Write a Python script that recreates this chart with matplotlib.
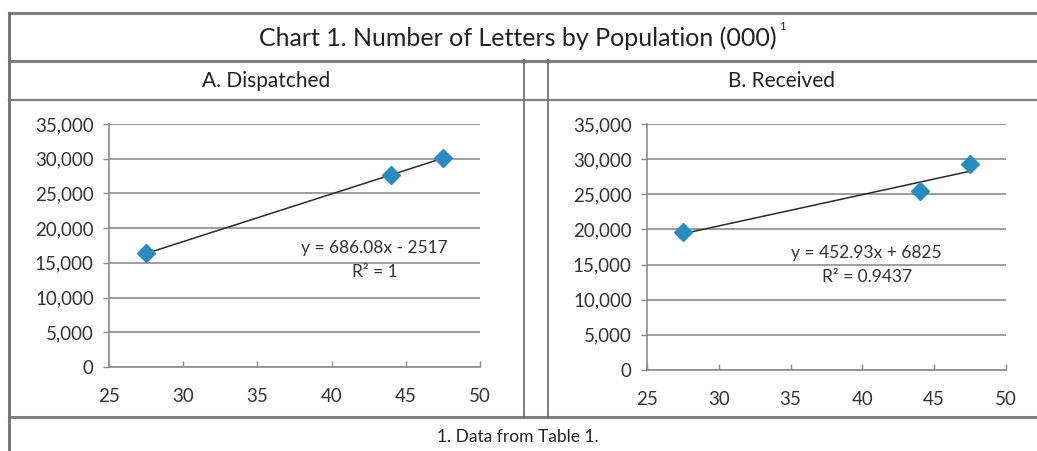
import numpy as np
import matplotlib
matplotlib.use("Agg")
import matplotlib.pyplot as plt
from matplotlib.lines import Line2D
from matplotlib.ticker import FuncFormatter

plt.rcParams['font.family'] = ['Lato', 'DejaVu Sans']

# --- data ---
population = [27.5, 44.0, 47.5]          # (000)
dispatched = [16350, 27670, 30070]
received = [19600, 25500, 29300]

title = "Chart 1. Number of Letters by Population (000)"
panel_titles = ["A. Dispatched", "B. Received"]
equations = ["y = 686.08x - 2517\nR² = 1", "y = 452.93x + 6825\nR² = 0.9437"]
eq_pos = [(42.9, 15400), (40.3, 14900)]
footnote = "1. Data from Table 1."

W, H = 1037, 451
fig = plt.figure(figsize=(W / 100, H / 100), dpi=100)
fig.patch.set_facecolor('white')


def px(x, y):
    return x / W, 1 - y / H


def hline(y, x0=9, x1=W, lw=2.0, color='#7f7f7f'):
    (a, b), (c, _) = px(x0, y), px(x1, y)
    fig.add_artist(Line2D([a, c], [b, b], lw=lw, color=color))


def vline(x, y0, y1, lw=1.3, color='#707070'):
    (a, b), (_, d) = px(x, y0), px(x, y1)
    fig.add_artist(Line2D([a, a], [b, d], lw=lw, color=color))


# table frame
hline(13, lw=2.2)
hline(61, lw=2.2)
hline(100, lw=1.6)
hline(417, lw=2.2)
vline(9, 13, H, lw=2.0)
vline(524, 60, 417)
vline(548, 60, 417)

fig.text(*px(518, 38), title, ha='center', va='center', fontsize=18, color='#222222')
fig.text(*px(779, 27), "1", ha='left', va='center', fontsize=8, color='#222222')
fig.text(*px(266, 81), panel_titles[0], ha='center', va='center', fontsize=15, color='#222222')
fig.text(*px(782, 81), panel_titles[1], ha='center', va='center', fontsize=15, color='#222222')
fig.text(*px(518, 437), footnote, ha='center', va='center', fontsize=12.5, color='#222222')

ax_boxes = [
    [109 / W, (H - 367) / H, 371 / W, 243 / H],
    [647 / W, (H - 370) / H, 359 / W, 246 / H],
]

for box, yvals, eq, (ex, ey) in zip(ax_boxes, [dispatched, received], equations, eq_pos):
    ax = fig.add_axes(box)
    x = np.array(population)
    y = np.array(yvals)
    k, b = np.polyfit(x, y, 1)
    xs = np.array([x.min(), x.max()])
    ax.plot(xs, k * xs + b, color='#2a2a2a', lw=1.1, zorder=3)
    ax.plot(x, y, 'D', color='#2b8bbf', markersize=9, markeredgecolor='#2b8bbf', zorder=4)
    ax.text(ex, ey, eq, ha='center', va='center', fontsize=12.5, color='#333333',
            multialignment='center', linespacing=1.6)

    ax.set_xlim(25, 50)
    ax.set_ylim(0, 35000)
    ax.set_xticks(range(25, 51, 5))
    ax.set_yticks(range(0, 35001, 5000))
    ax.yaxis.set_major_formatter(FuncFormatter(lambda v, p: f"{int(v):,}"))
    ax.grid(axis='y', color='#8c8c8c', lw=1.2)
    ax.set_axisbelow(True)
    for s in ['top', 'right']:
        ax.spines[s].set_visible(False)
    for s in ['left', 'bottom']:
        ax.spines[s].set_color('#8c8c8c')
        ax.spines[s].set_linewidth(1.2)
    ax.tick_params(axis='both', colors='#8c8c8c', labelcolor='#333333', labelsize=13.5,
                   length=4, width=1.0)
    ax.tick_params(axis='x', direction='in', pad=15)
    ax.tick_params(axis='y', direction='out', pad=7)

fig.savefig('out.png', dpi=100)
